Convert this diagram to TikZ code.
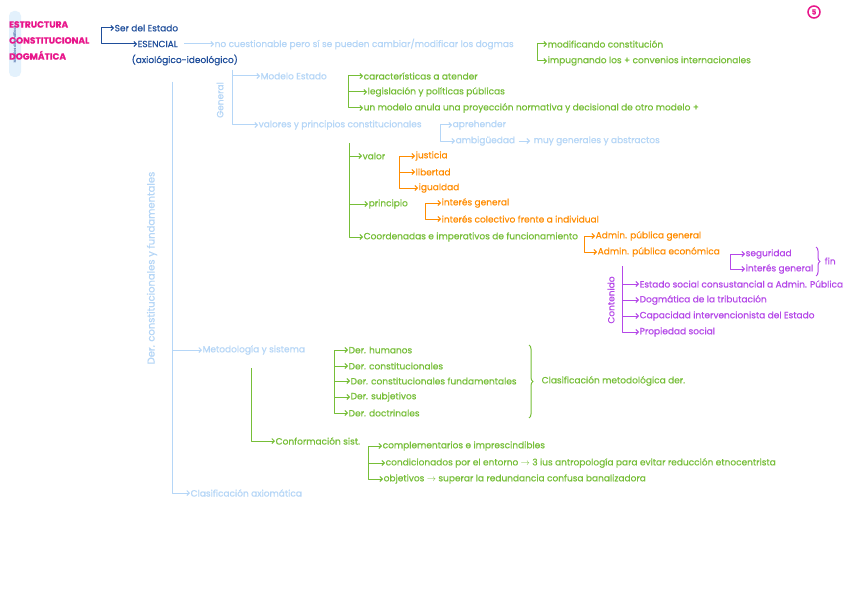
\documentclass[tikz,border=0pt]{standalone}
\usepackage{fontspec}
\setmainfont{Poppins}[FakeBold=0.6]
\usetikzlibrary{arrows.meta,decorations.pathreplacing}
\definecolor{mag}{HTML}{E8168B}
\definecolor{dblue}{HTML}{1F4E9B}
\definecolor{lblue}{HTML}{B5D6F7}
\definecolor{tabc}{HTML}{E3F1FC}
\definecolor{grn}{HTML}{76BE37}
\definecolor{org}{HTML}{FF8C00}
\definecolor{pur}{HTML}{B548E8}
\tikzset{
  t/.style={anchor=west, inner sep=0.5pt, font=\fontsize{9}{10}\selectfont},
  tlb/.style={t, text=lblue},
  tdb/.style={t, text=dblue},
  tgr/.style={t, text=grn},
  tor/.style={t, text=org},
  tpu/.style={t, text=pur},
  arr/.style={-{Straight Barb[length=2.5pt,width=5pt]}, line width=1pt, line join=round},
  alb/.style={arr, draw=lblue},
  adb/.style={arr, draw=dblue},
  agr/.style={arr, draw=grn},
  aor/.style={arr, draw=org},
  apu/.style={arr, draw=pur},
  brc/.style={decorate, decoration={brace, amplitude=4pt}, line width=1pt}
}
\begin{document}
\begin{tikzpicture}[x=1pt,y=-1pt]
\fill[white] (0,0) rectangle (848,599);
\useasboundingbox (0,0) rectangle (848,599);

% left tab
\node[fill=tabc, rounded corners=5pt, rotate=90, minimum width=66pt, minimum height=12pt, inner sep=0pt, text=dblue!60, font=\fontsize{3.5}{4}\selectfont] (tab) at (15,44) {Modelos dogmáticos};
% title
\node[anchor=north west, inner sep=0pt, text=mag, align=left, font=\fontsize{9}{16}\selectfont\bfseries] (title) at (9,21) {ESTRUCTURA\\CONSTITUCIONAL\\DOGMÁTICA};
% page number
\node[circle, draw=mag, line width=1.5pt, text=mag, inner sep=1pt, minimum size=12pt, font=\fontsize{7}{7}\selectfont\bfseries] (pg) at (814,12) {5};

% dark blue
\node[tdb] (ser) at (114,28) {Ser del Estado};
\node[tdb] (esen) at (137,44) {ESENCIAL};
\node[tdb] (axio) at (131,60) {(axiológico-ideológico)};
\coordinate (dbk) at (101,36);
\draw[adb] (dbk) |- (ser.west);
\draw[adb] (dbk) |- (esen.west);

% no cuestionable
\node[tlb] (nocu) at (214,44) {no cuestionable pero sí se pueden cambiar/modificar los dogmas};
\draw[alb] (esen.east) ++(6,0) coordinate (esE) -- (nocu.west);
\node[tgr] (modc) at (547,44) {modificando constitución};
\node[tgr] (impu) at (547,61) {impugnando los + convenios internacionales};
\coordinate (gb0) at (537,44);
\draw[agr] (gb0) |- (modc.west);
\draw[agr] (gb0) |- (impu.west);

% main trunk
\coordinate (tr) at (172,82);
\node[tlb, rotate=90, anchor=center, font=\fontsize{10}{10}\selectfont] (derlab) at (152,268) {Der. constitucionales y fundamentales};
\node[tlb] (met) at (202,350) {Metodología y sistema};
\node[tlb] (clax) at (190,493) {Clasificación axiomática};
\draw[alb] (tr) |- (met.west);
\draw[alb] (tr) |- (clax.west);

% General
\coordinate (gt) at (232,70);
\node[tlb, rotate=90, anchor=center] (gen) at (220,100) {General};
\node[tlb] (mod) at (260,76) {Modelo Estado};
\node[tlb] (valp) at (258,125) {valores y principios constitucionales};
\draw[alb] (gt) |- (mod.west);
\draw[alb] (gt) |- (valp.west);

% Modelo Estado children
\node[tgr] (car) at (363,76) {características a atender};
\node[tgr] (leg) at (367,92) {legislación y políticas públicas};
\node[tgr] (una) at (363,108) {un modelo anula una proyección normativa y decisional de otro modelo +};
\coordinate (mb) at (348,76);
\draw[agr] (mb) |- (car.west);
\draw[agr] (mb) |- (leg.west);
\draw[agr] (mb) |- (una.west);

% valores y principios children
\node[tlb] (apre) at (452,125) {aprehender};
\node[tlb] (amb) at (455,141) {ambigüedad};
\node[tlb] (muy) at (533,141) {muy generales y abstractos};
\coordinate (vb) at (440,125);
\draw[alb] (vb) -- (apre.west);
\draw[alb] (vb) |- (amb.west);
\draw[alb] (amb.east) ++(3,0) -- ([xshift=-3pt]muy.west);

% green trunk
\coordinate (gv) at (349,143);
\node[tgr] (valor) at (362,156) {valor};
\node[tgr] (prin) at (368,204) {principio};
\node[tgr] (coor) at (363,237) {Coordenadas e imperativos de funcionamiento};
\draw[agr] (gv) |- (valor.west);
\draw[agr] (gv) |- (prin.west);
\draw[agr] (gv) |- (coor.west);

% orange
\node[tor] (jus) at (415,156) {justicia};
\node[tor] (lib) at (415,172) {libertad};
\node[tor] (igu) at (418,188) {igualdad};
\coordinate (ob1) at (399,156);
\draw[aor] (ob1) |- (jus.west);
\draw[aor] (ob1) |- (lib.west);
\draw[aor] (ob1) |- (igu.west);

\node[tor] (ig1) at (441,203) {interés general};
\node[tor] (icol) at (441,219) {interés colectivo frente a individual};
\coordinate (ob2) at (425,203);
\draw[aor] (ob2) |- (ig1.west);
\draw[aor] (ob2) |- (icol.west);

\node[tor] (apg) at (595,236) {Admin. pública general};
\node[tor] (ape) at (597,252) {Admin. pública económica};
\coordinate (ob3) at (584,237);
\draw[aor] (ob3) |- (apg.west);
\draw[aor] (ob3) |- (ape.west);

% purple
\node[tpu] (seg) at (745,254) {seguridad};
\node[tpu] (ig2) at (745,269) {interés general};
\coordinate (pb) at (730,254);
\draw[apu] (pb) |- (seg.west);
\draw[apu] (pb) |- (ig2.west);
\draw[brc, draw=pur] (816,247) -- (816,276);
\node[tpu] (fin) at (824,261) {fin};

\coordinate (pt) at (622,266);
\node[tpu, rotate=90, anchor=center] (cont) at (611,300) {Contenido};
\node[tpu] (c1) at (639,284) {Estado social consustancial a Admin. Pública};
\node[tpu] (c2) at (639,300) {Dogmática de la tributación};
\node[tpu] (c3) at (639,316) {Capacidad intervencionista del Estado};
\node[tpu] (c4) at (639,332) {Propiedad social};
\draw[apu] (pt) |- (c1.west);
\draw[apu] (pt) |- (c2.west);
\draw[apu] (pt) |- (c3.west);
\draw[apu] (pt) |- (c4.west);

% Metodología children
\node[tgr] (d1) at (348,350) {Der. humanos};
\node[tgr] (d2) at (348,366) {Der. constitucionales};
\node[tgr] (d3) at (350,381) {Der. constitucionales fundamentales};
\node[tgr] (d4) at (350,397) {Der. subjetivos};
\node[tgr] (d5) at (348,413) {Der. doctrinales};
\coordinate (mb2) at (334,350);
\draw[agr] (mb2) |- (d1.west);
\draw[agr] (mb2) |- (d2.west);
\draw[agr] (mb2) |- (d3.west);
\draw[agr] (mb2) |- (d4.west);
\draw[agr] (mb2) |- (d5.west);
\draw[brc, draw=grn] (529,345) -- (529,418);
\node[tgr] (clm) at (541,381) {Clasificación metodológica der.};

% Conformación
\coordinate (ct) at (251,368);
\node[tgr] (conf) at (275,441) {Conformación sist.};
\draw[agr] (ct) |- (conf.west);
\node[tgr] (k1) at (382,446) {complementarios e imprescindibles};
\node[tgr] (k2) at (385,463) {condicionados por el entorno $\rightarrow$ 3 ius antropología para evitar reducción etnocentrista};
\node[tgr] (k3) at (383,479) {objetivos $\rightarrow$ superar la redundancia confusa banalizadora};
\coordinate (cb) at (368,446);
\draw[agr] (cb) |- (k1.west);
\draw[agr] (cb) |- (k2.west);
\draw[agr] (cb) |- (k3.west);
\end{tikzpicture}
\end{document}
